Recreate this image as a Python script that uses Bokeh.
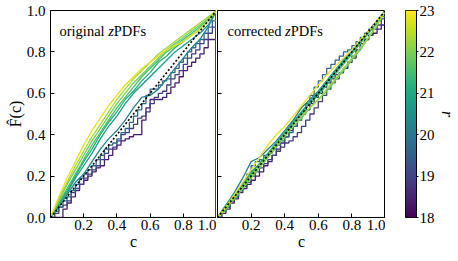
import numpy as np
from bokeh.plotting import figure
from bokeh.layouts import row
from bokeh.models import (Range1d, FixedTicker, PrintfTickFormatter, Label,
                          LinearColorMapper, CustomJSTickFormatter)
from bokeh.palettes import Viridis256
from bokeh.embed import file_html
from bokeh.resources import INLINE

# ---------------- data ----------------
# smooth curves (faint magnitude bins) sampled every 0.05 in c
c_grid = [0.0, 0.05, 0.1, 0.15, 0.2, 0.25, 0.3, 0.35, 0.4, 0.45, 0.5,
          0.55, 0.6, 0.65, 0.7, 0.75, 0.8, 0.85, 0.9, 0.95, 1.0]
# stepped curves (bright bins, few objects) sampled every 0.025 in c
c_fine = [0.0, 0.025, 0.05, 0.075, 0.1, 0.125, 0.15, 0.175, 0.2, 0.225,
          0.25, 0.275, 0.3, 0.325, 0.35, 0.375, 0.4, 0.425, 0.45, 0.475,
          0.5, 0.525, 0.55, 0.575, 0.6, 0.625, 0.65, 0.675, 0.7, 0.725,
          0.75, 0.775, 0.8, 0.825, 0.85, 0.875, 0.9, 0.925, 0.95, 0.975, 1.0]

step_mags = [18.4, 18.9, 19.6]
line_mags = [20.2, 20.7, 21.1, 21.5, 21.9, 22.3, 22.8]

# original zPDFs
orig_r184 = [0, 0, 0, .04, .07, .10, .13, .16, .18, .20, .22, .24, .25, .28, .30, .33, .35, .37, .38, .39,
             .40, .40, .47, .53, .57, .57, .57, .58, .60, .63, .65, .68, .71, .73, .75, .77, .79, .82, .86, .86, 1]
orig_r189 = [0, .02, .05, .06, .08, .12, .14, .16, .19, .21, .23, .25, .28, .31, .33, .34, .37, .40, .41, .43,
             .45, .48, .49, .51, .55, .58, .60, .61, .64, .67, .69, .71, .74, .77, .79, .81, .84, .86, .89, .92, 1]
orig_r196 = [0, .03, .05, .08, .10, .13, .16, .19, .21, .23, .25, .28, .30, .33, .35, .36, .38, .41, .43, .46,
             .49, .52, .55, .59, .62, .62, .64, .66, .67, .70, .72, .75, .77, .80, .82, .84, .86, .89, .92, .95, 1]
orig_r202 = [0, .05, .11, .17, .21, .27, .33, .38, .42, .47, .53, .58, .59, .62, .67, .72, .77, .82, .86, .92, 1]
orig_r207 = [0, .06, .12, .19, .25, .31, .38, .44, .49, .55, .60, .64, .68, .72, .76, .80, .83, .86, .89, .93, 1]
orig_r211 = [0, .07, .13, .20, .27, .33, .40, .46, .51, .57, .61, .66, .70, .75, .78, .82, .85, .88, .91, .95, 1]
orig_r215 = [0, .07, .14, .21, .28, .35, .41, .47, .53, .58, .63, .68, .72, .76, .80, .83, .86, .89, .92, .96, 1]
orig_r219 = [0, .08, .16, .23, .30, .37, .43, .49, .55, .60, .65, .69, .73, .77, .81, .84, .87, .90, .93, .96, 1]
orig_r223 = [0, .09, .17, .25, .32, .39, .45, .51, .57, .62, .67, .71, .75, .79, .82, .85, .88, .91, .94, .97, 1]
orig_r228 = [0, .10, .19, .27, .35, .42, .48, .54, .59, .64, .68, .72, .75, .78, .81, .83, .85, .88, .91, .95, 1]

# corrected zPDFs
corr_r184 = [0, .02, .04, .07, .09, .12, .14, .16, .18, .20, .22, .25, .27, .30, .33, .36, .39, .42, .44, .47,
             .50, .52, .55, .58, .60, .63, .65, .67, .69, .70, .72, .75, .77, .81, .84, .86, .88, .89, .91, .93, 1]
corr_r189 = [0, .03, .05, .08, .10, .13, .15, .17, .20, .22, .24, .26, .28, .30, .32, .34, .36, .37, .39, .41,
             .44, .47, .50, .53, .56, .59, .62, .65, .67, .70, .72, .75, .78, .81, .84, .86, .88, .91, .93, .96, 1]
corr_r196 = [0, .03, .05, .08, .10, .13, .17, .21, .25, .27, .28, .30, .31, .33, .35, .37, .39, .41, .44, .47,
             .51, .55, .59, .63, .66, .69, .72, .74, .76, .78, .80, .81, .83, .85, .87, .89, .91, .93, .95, .97, 1]
corr_r202 = [0, .06, .12, .19, .27, .29, .33, .37, .42, .47, .53, .57, .61, .66, .71, .76, .80, .85, .90, .95, 1]
corr_r207 = [0, .05, .10, .16, .22, .26, .31, .36, .41, .46, .51, .56, .60, .65, .70, .75, .80, .85, .90, .95, 1]
corr_r211 = [0, .06, .11, .16, .21, .26, .31, .36, .41, .46, .51, .56, .61, .66, .71, .76, .80, .85, .90, .95, 1]
corr_r215 = [0, .05, .10, .15, .20, .25, .30, .35, .40, .45, .50, .55, .59, .64, .69, .74, .79, .84, .89, .94, 1]
corr_r219 = [0, .04, .09, .14, .19, .24, .29, .34, .39, .44, .48, .53, .57, .61, .66, .71, .76, .81, .87, .93, 1]
corr_r223 = [0, .05, .10, .15, .20, .25, .30, .35, .40, .44, .49, .53, .57, .62, .67, .72, .77, .82, .87, .93, 1]
corr_r228 = [0, .05, .11, .17, .23, .29, .35, .40, .44, .49, .54, .59, .64, .69, .73, .77, .81, .86, .90, .95, 1]

orig_step = [orig_r184, orig_r189, orig_r196]
orig_line = [orig_r202, orig_r207, orig_r211, orig_r215, orig_r219, orig_r223, orig_r228]
corr_step = [corr_r184, corr_r189, corr_r196]
corr_line = [corr_r202, corr_r207, corr_r211, corr_r215, corr_r219, corr_r223, corr_r228]

diag_c = [0.0, 1.0]
diag_F = [0.0, 1.0]
edge_c = [1.0, 1.0]
edge_F = [0.0, 1.0]

x_ticks = [0.2, 0.4, 0.6, 0.8, 1.0]
y_ticks = [0.0, 0.2, 0.4, 0.6, 0.8, 1.0]
cb_ticks = [18, 19, 20, 21, 22, 23]
r_low, r_high = 18, 23

FONT = "Liberation Serif"
TICK_FS = "15px"
LAB_FS = "16px"
TITLE_FS = "14.5px"

FW1, FW2, FH = 166, 168, 207
TOP, BOT = 10, 36


def mag_color(r):
    i = int(round((r - r_low) / (r_high - r_low) * 255))
    return Viridis256[max(0, min(255, i))]


def style(p, show_ylabels):
    p.grid.visible = False
    p.outline_line_color = "black"
    p.outline_line_width = 1
    for ax in (p.xaxis[0], p.yaxis[0]):
        ax.major_tick_in = 4
        ax.major_tick_out = 0
        ax.minor_tick_line_color = None
        ax.axis_line_color = "black"
        ax.major_tick_line_color = "black"
        ax.major_label_text_font = FONT
        ax.major_label_text_font_size = TICK_FS
        ax.major_label_text_color = "black"
        ax.axis_label_text_font = FONT
        ax.axis_label_text_font_size = LAB_FS
        ax.axis_label_text_font_style = "normal"
        ax.axis_label_text_color = "black"
    p.xaxis[0].ticker = FixedTicker(ticks=x_ticks)
    p.xaxis[0].formatter = PrintfTickFormatter(format="%.1f")
    p.xaxis[0].major_label_standoff = 2
    p.xaxis[0].axis_label = "c"
    p.xaxis[0].axis_label_standoff = 0
    p.yaxis[0].ticker = FixedTicker(ticks=y_ticks)
    if show_ylabels:
        p.yaxis[0].formatter = PrintfTickFormatter(format="%.1f")
        p.yaxis[0].major_label_standoff = 5
        p.yaxis[0].axis_label = "F\u0302(c)"
        p.yaxis[0].axis_label_standoff = 0
    else:
        p.yaxis[0].formatter = CustomJSTickFormatter(code="return ''")
        p.yaxis[0].major_label_standoff = 0


def draw_curves(p, step_curves, line_curves):
    for r, F in zip(step_mags, step_curves):
        p.step(c_fine, F, mode="after", line_color=mag_color(r), line_width=1.3)
    for r, F in zip(line_mags, line_curves):
        p.line(c_grid, F, line_color=mag_color(r), line_width=1.3)
    p.line(diag_c, diag_F, line_color="black", line_width=1.6, line_dash="2 2")


def add_title(p, parts, frame_w):
    # parts: list of (text, px offset from frame's left edge, italic)
    for txt, off, ital in parts:
        p.add_layout(Label(x=off / frame_w, y=1 - 20.0 / FH, text=txt,
                           text_font=FONT, text_font_size=TITLE_FS,
                           text_font_style="italic" if ital else "normal",
                           text_baseline="alphabetic", text_align="left",
                           text_color="black"))


common = dict(frame_height=FH, x_range=Range1d(0, 1), y_range=Range1d(0, 1),
              output_backend="svg", toolbar_location=None,
              min_border_top=TOP, min_border_bottom=BOT)

p1 = figure(frame_width=FW1, min_border_left=50, min_border_right=0, **common)
style(p1, True)
draw_curves(p1, orig_step, orig_line)
p1.line(edge_c, edge_F, line_color=mag_color(22.8), line_width=1.6)
add_title(p1, [("original", 9, False), ("z", 9 + 48.7, True),
               ("PDFs", 9 + 48.7 + 5.6, False)], FW1)

p2 = figure(frame_width=FW2, min_border_left=1, min_border_right=0, **common)
style(p2, False)
draw_curves(p2, corr_step, corr_line)
add_title(p2, [("corrected", 10, False), ("z", 10 + 57.6, True),
               ("PDFs", 10 + 57.6 + 5.6, False)], FW2)

# colour bar
p3 = figure(frame_width=11, frame_height=FH, x_range=Range1d(0, 1),
            y_range=Range1d(r_low, r_high),
            output_backend="svg", toolbar_location=None, x_axis_location=None,
            y_axis_location="right", min_border_left=20, min_border_right=20,
            min_border_top=TOP, min_border_bottom=BOT)
p3.grid.visible = False
p3.outline_line_color = "black"
mapper = LinearColorMapper(palette=Viridis256, low=r_low, high=r_high)
grad = np.linspace(r_low, r_high, 256).reshape(-1, 1)
p3.image(image=[grad], x=0, y=r_low, dw=1, dh=r_high - r_low, color_mapper=mapper)
ay = p3.yaxis[0]
ay.ticker = FixedTicker(ticks=cb_ticks)
ay.formatter = PrintfTickFormatter(format="%d")
ay.major_tick_in = 0
ay.major_tick_out = 2
ay.minor_tick_line_color = None
ay.axis_line_color = "black"
ay.major_label_standoff = 1
ay.major_label_text_font = FONT
ay.major_label_text_font_size = TICK_FS
ay.major_label_text_color = "black"
ay.axis_label = "r"
ay.axis_label_text_font = FONT
ay.axis_label_text_font_size = LAB_FS
ay.axis_label_text_font_style = "italic"
ay.axis_label_text_color = "black"
ay.axis_label_standoff = 1

layout = row(p1, p2, p3)
open("out.html", "w").write(file_html(layout, INLINE))
